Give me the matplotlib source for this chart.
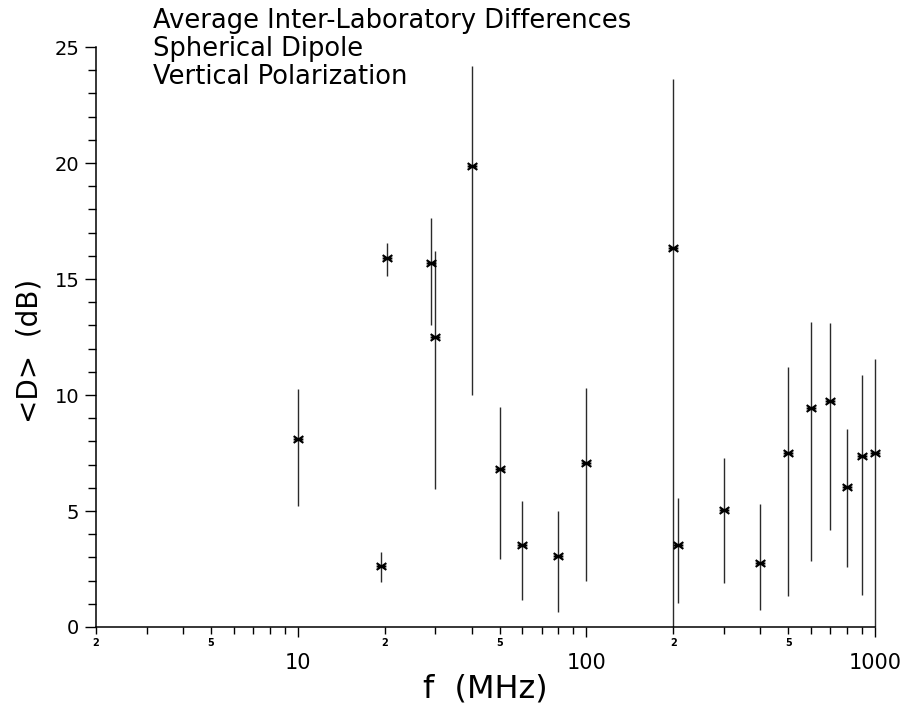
import numpy as np
import matplotlib
matplotlib.use("Agg")
import matplotlib.pyplot as plt
from matplotlib.path import Path
from matplotlib.ticker import LogLocator, FuncFormatter, MultipleLocator, NullFormatter

# frequency (MHz), mean difference and the bottom/top of each bar (dB)
freq = [10, 19.5, 20.3, 29, 30, 40, 50, 60, 80, 100,
        200, 208, 300, 400, 500, 600, 700, 800, 900, 1000]
d_mean = [8.1, 2.65, 15.9, 15.7, 12.5, 19.85, 6.8, 3.55, 3.05, 7.05,
          16.35, 3.55, 5.05, 2.75, 7.5, 9.45, 9.75, 6.05, 7.35, 7.5]
d_low = [5.2, 1.95, 15.15, 13.0, 5.95, 10.0, 2.95, 1.15, 0.65, 2.0,
         0.0, 1.05, 1.9, 0.75, 1.35, 2.85, 4.2, 2.6, 1.4, 0.0]
d_high = [10.25, 3.25, 16.55, 17.65, 16.2, 24.2, 9.5, 5.45, 5.0, 10.3,
          23.6, 5.55, 7.3, 5.3, 11.2, 13.15, 13.1, 8.55, 10.85, 11.55]

title_lines = ["Average Inter-Laboratory Differences",
               "Spherical Dipole",
               "Vertical Polarization"]

# plotter-style asterisk: horizontal stroke plus two flat diagonals
star = Path([(-1, 0), (1, 0), (-1, -0.7), (1, 0.7), (-1, 0.7), (1, -0.7)],
            [Path.MOVETO, Path.LINETO, Path.MOVETO, Path.LINETO,
             Path.MOVETO, Path.LINETO])

fig = plt.figure(figsize=(9.05, 7.06), dpi=100)
ax = fig.add_axes([0.1061, 0.1119, 0.8608, 0.8215])

mean = np.array(d_mean)
yerr = [mean - np.array(d_low), np.array(d_high) - mean]
bars = ax.errorbar(freq, d_mean, yerr=yerr, fmt="none", ecolor="#2a2a2a",
                   elinewidth=1.0, capsize=0)
for coll in bars.lines[2]:
    coll.set_clip_on(False)
ax.plot(freq, d_mean, linestyle="none", marker=star, markersize=7,
        markeredgewidth=1.5, color="black", clip_on=False)

ax.set_xscale("log")
ax.set_xlim(2, 1000)
ax.set_ylim(0, 25)

for side in ("top", "right"):
    ax.spines[side].set_visible(False)
for side in ("left", "bottom"):
    ax.spines[side].set_linewidth(1.1)

ax.xaxis.set_major_locator(LogLocator(base=10, numticks=10))
ax.xaxis.set_minor_locator(LogLocator(base=10, subs=np.arange(2, 10), numticks=20))


def minor_label(x, pos):
    lead = int(round(x / 10 ** np.floor(np.log10(x) + 1e-9)))
    return str(lead) if lead in (2, 5) else ""


ax.xaxis.set_major_formatter(FuncFormatter(lambda x, pos: "%d" % x))
ax.xaxis.set_minor_formatter(FuncFormatter(minor_label))
ax.tick_params(axis="x", which="major", direction="out", length=7, width=1.0,
               labelsize=15, pad=12)
ax.tick_params(axis="x", which="minor", direction="out", length=5, width=1.0,
               labelsize=7, pad=3)
for lbl in ax.xaxis.get_minorticklabels():
    lbl.set_fontweight("bold")

ax.yaxis.set_major_locator(MultipleLocator(5))
ax.yaxis.set_minor_locator(MultipleLocator(1))
ax.yaxis.set_minor_formatter(NullFormatter())
ax.tick_params(axis="y", which="major", direction="out", length=8, width=1.0,
               labelsize=14, pad=4)
ax.tick_params(axis="y", which="minor", direction="out", length=6, width=1.0)

ax.set_xlabel("f  (MHz)", fontsize=23, va="center")
ax.xaxis.set_label_coords(0.5, -0.107)
ax.set_ylabel("<D>  (dB)", fontsize=20, va="center", ha="center")
ax.yaxis.set_label_coords(-0.085, 0.476)

for i, line in enumerate(title_lines):
    fig.text(0.169, 0.970 - i * 0.0397, line, fontsize=18.5, va="center",
             ha="left")

fig.savefig("out.png", dpi=100, facecolor="white")
